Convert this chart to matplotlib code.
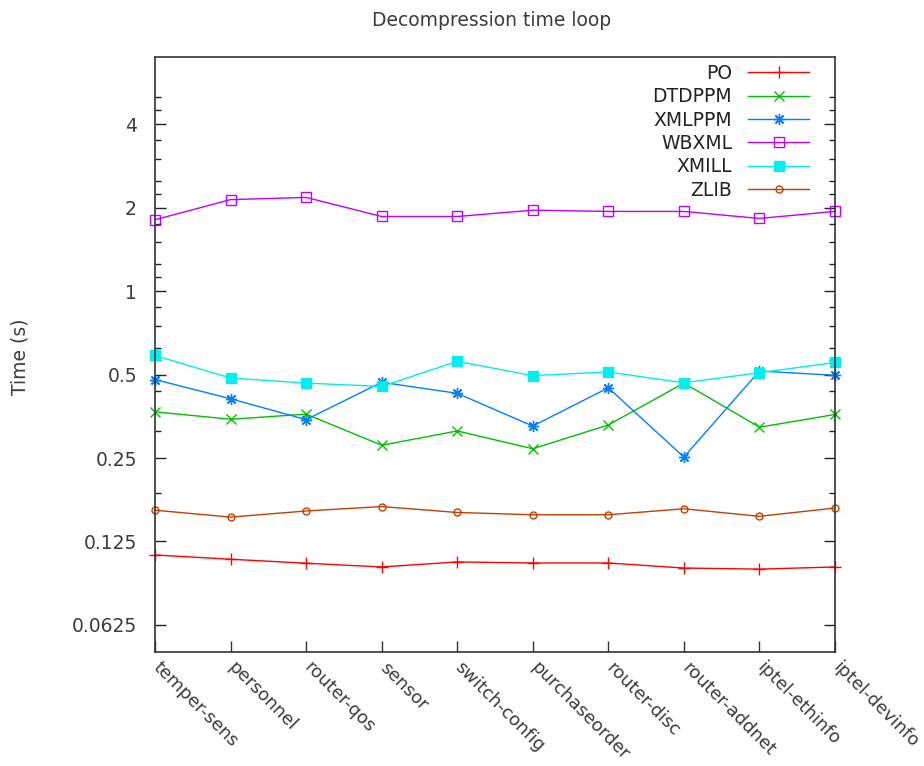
import matplotlib
matplotlib.use("Agg")
import matplotlib.pyplot as plt
import matplotlib.transforms as mtransforms
from matplotlib.ticker import FixedLocator, FixedFormatter, NullFormatter

categories = ["temper-sens", "personnel", "router-qos", "sensor", "switch-config",
              "purchaseorder", "router-disc", "router-addnet", "iptel-ethinfo", "iptel-devinfo"]

po     = [0.1117, 0.1078, 0.1043, 0.1011, 0.1054, 0.1045, 0.1045, 0.1002, 0.0993, 0.1011]
dtdppm = [0.367, 0.345, 0.360, 0.278, 0.313, 0.270, 0.329, 0.466, 0.323, 0.359]
xmlppm = [0.480, 0.409, 0.344, 0.469, 0.428, 0.326, 0.448, 0.252, 0.515, 0.497]
wbxml  = [1.81, 2.14, 2.18, 1.86, 1.86, 1.96, 1.94, 1.94, 1.83, 1.94]
xmill  = [0.586, 0.486, 0.466, 0.453, 0.558, 0.496, 0.511, 0.467, 0.508, 0.553]
zlib   = [0.162, 0.153, 0.161, 0.167, 0.159, 0.156, 0.156, 0.164, 0.154, 0.165]

series_names = ["PO", "DTDPPM", "XMLPPM", "WBXML", "XMILL", "ZLIB"]

ytick_values = [0.0625, 0.125, 0.25, 0.5, 1, 2, 4]
ytick_labels = ["0.0625", "0.125", "0.25", "0.5", "1", "2", "4"]
yminor_values = [0.1875, 0.3125, 0.4375, 0.5625, 0.625, 0.75, 0.875, 1.125, 1.25,
                 1.5, 1.75, 2.25, 2.5, 3, 3.5, 4.5, 5]

plt.rcParams['font.family'] = ['DejaVu Sans']
TXT = '#3c3c3c'
FS = 13.5

fig = plt.figure(figsize=(9.24, 7.66), dpi=100)
ax = fig.add_axes([155/924, 1 - 651.7/766, (835-155)/924, (651.7-57)/766])

styles = [
    dict(color='#ff0000', marker='+', markersize=8, mew=1.0),
    dict(color='#00c000', marker='x', markersize=7, mew=1.0),
    dict(color='#0080ff', marker=(8, 2, 0), markersize=8, mew=1.0),
    dict(color='#c000ff', marker='s', markersize=7, mfc='none', mew=1.0),
    dict(color='#00eeee', marker='s', markersize=7, mew=1.0),
    dict(color='#c04000', marker='o', markersize=5, mfc='none', mew=1.0),
]
x = list(range(len(categories)))
for name, vals, st in zip(series_names, [po, dtdppm, xmlppm, wbxml, xmill, zlib], styles):
    ax.plot(x, vals, lw=1.0, label=name, clip_on=False, **st)

ax.set_yscale('log', base=2)
ax.set_ylim(0.05, 7.0)
ax.set_xlim(0, len(categories) - 1)

ax.yaxis.set_major_locator(FixedLocator(ytick_values))
ax.yaxis.set_major_formatter(FixedFormatter(ytick_labels))
ax.yaxis.set_minor_locator(FixedLocator(yminor_values))
ax.yaxis.set_minor_formatter(NullFormatter())

ax.set_xticks(x)
ax.set_xticklabels(categories, rotation=-45, ha='left', va='top', rotation_mode='anchor',
                   fontsize=13.0, color=TXT)
ax.tick_params(axis='x', which='both', direction='in', length=8, width=1, top=False,
               pad=5, colors='#333333', labelcolor=TXT)
ax.tick_params(axis='y', which='major', direction='in', length=8, width=1, left=True,
               right=True, labelsize=FS, labelcolor=TXT, pad=13, colors='#222222')
ax.tick_params(axis='y', which='minor', direction='in', length=4, width=1, left=True,
               right=True, colors='#222222')
for lab in ax.get_yticklabels():
    lab.set_color(TXT)

shift = mtransforms.ScaledTranslation(7/100, 0, fig.dpi_scale_trans)
for lab in ax.get_xticklabels():
    lab.set_transform(lab.get_transform() + shift)

for sp in ax.spines.values():
    sp.set_linewidth(1.2)
    sp.set_color('#333333')

fig.text(0.532, 1 - 20/766, "Decompression time loop", ha='center', va='center',
         fontsize=FS, color=TXT)
fig.text(20/924, 1 - 357/766, "Time (s)", rotation=90, ha='center', va='center',
         fontsize=FS, color=TXT)

leg = ax.legend(loc='upper right', markerfirst=False, frameon=False, fontsize=FS,
                handlelength=3.25, handletextpad=0.85, labelspacing=0.23,
                borderpad=0.0, borderaxespad=0.0,
                bbox_to_anchor=(809/924, 1 - 64/766), bbox_transform=fig.transFigure)
for t in leg.get_texts():
    t.set_color('#222222')

fig.savefig("out.png", dpi=100)
